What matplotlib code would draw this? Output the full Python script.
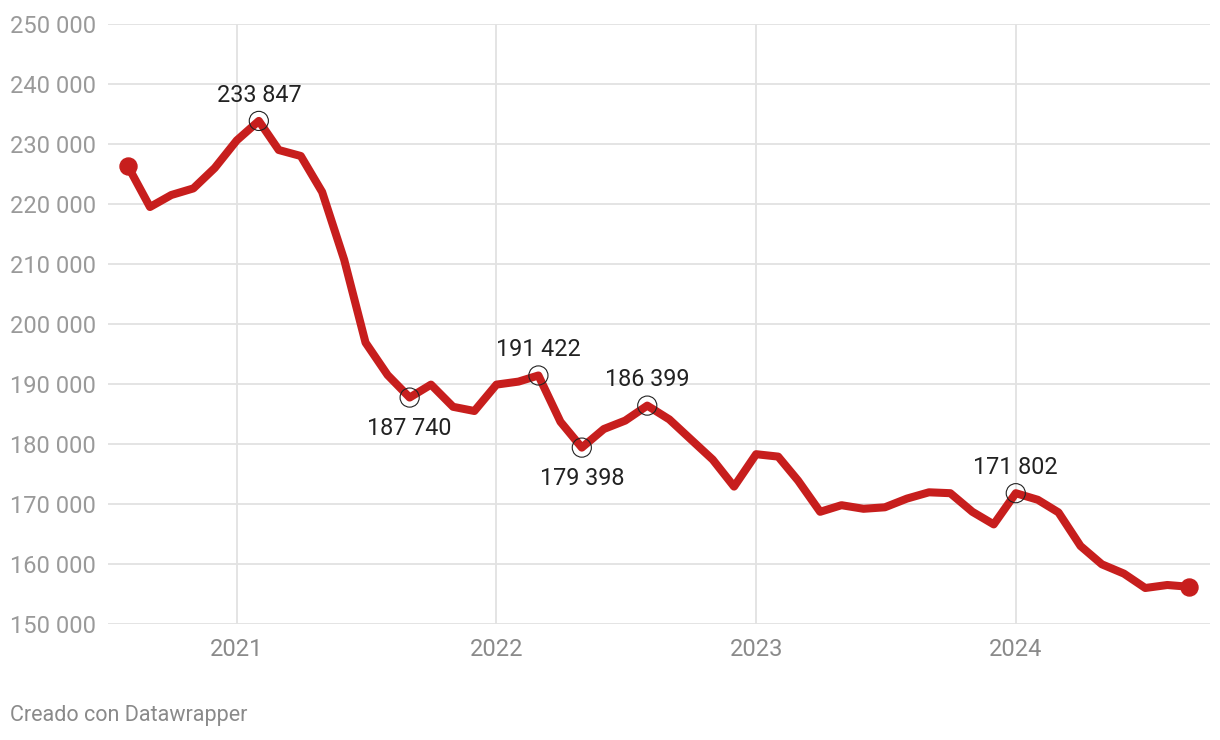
import pandas as pd
import matplotlib
matplotlib.use("Agg")
import matplotlib.pyplot as plt

plt.rcParams["font.family"] = ["Roboto", "DejaVu Sans"]

# monthly values, Aug 2020 - Sep 2024
months = pd.date_range("2020-08-01", "2024-09-01", freq="MS")
values = [
    226300, 219500, 221500, 222600, 226000, 230600, 233847, 229000, 228000, 222000,
    210700, 196900, 191500, 187740, 189900, 186200, 185500, 189900, 190400, 191422,
    183700, 179398, 182500, 183900, 186399, 184100, 180800, 177400, 172900, 178300,
    177900, 173900, 168700, 169800, 169200, 169450, 170900, 171950, 171800, 168700,
    166600, 171802, 170700, 168600, 163000, 159950, 158400, 156000, 156500, 156200,
]

# highlighted points: (month, value, label above?)
marked = [
    ("2021-02-01", 233847, True),
    ("2021-09-01", 187740, False),
    ("2022-03-01", 191422, True),
    ("2022-05-01", 179398, False),
    ("2022-08-01", 186399, True),
    ("2024-01-01", 171802, True),
]

year_ticks = ["2021-01-01", "2022-01-01", "2023-01-01", "2024-01-01"]
year_labels = ["2021", "2022", "2023", "2024"]
y_ticks = list(range(150000, 250001, 10000))

red = "#c71e1d"

fig = plt.figure(figsize=(12.2, 7.4), dpi=100)
ax = fig.add_axes([108 / 1220, 1 - 624 / 740, 1102 / 1220, 600 / 740])

ax.plot(months, values, color=red, lw=5.8, solid_capstyle="round",
        solid_joinstyle="round", zorder=3)
ax.scatter([months[0], months[-1]], [values[0], values[-1]], s=150, color=red, zorder=4)

def fmt(v):
    return f"{v:,}".replace(",", " ")

for d, v, above in marked:
    d = pd.Timestamp(d)
    ax.scatter([d], [v], s=190, facecolors="none", edgecolors="#222222",
               linewidths=0.8, zorder=5)
    off = 18.5 if above else -22.5
    ax.annotate(fmt(v), (d, v), xytext=(0, off), textcoords="offset points",
                ha="center", va="center", fontsize=16.8, color="#222222", zorder=6)

ax.set_xlim(pd.Timestamp("2020-07-04"), pd.Timestamp("2024-09-30"))
ax.set_ylim(150000, 250000)

ax.set_yticks(y_ticks)
ax.set_yticklabels([fmt(v) for v in y_ticks], ha="left")
ax.tick_params(axis="y", length=0, pad=70.5, labelsize=17, labelcolor="#9a9a9a")

ax.set_xticks([pd.Timestamp(t) for t in year_ticks])
ax.set_xticklabels(year_labels)
ax.tick_params(axis="x", length=0, pad=10, labelsize=17, labelcolor="#8a8a8a")

ax.grid(True, color="#e2e2e2", lw=1.3, zorder=0)
ax.set_axisbelow(True)
for s in ax.spines.values():
    s.set_visible(False)

fig.text(10 / 1220, 1 - 716 / 740, "Creado con Datawrapper", fontsize=15.5,
         color="#8a8a8a", ha="left", va="center")

fig.savefig("out.png", dpi=100)
